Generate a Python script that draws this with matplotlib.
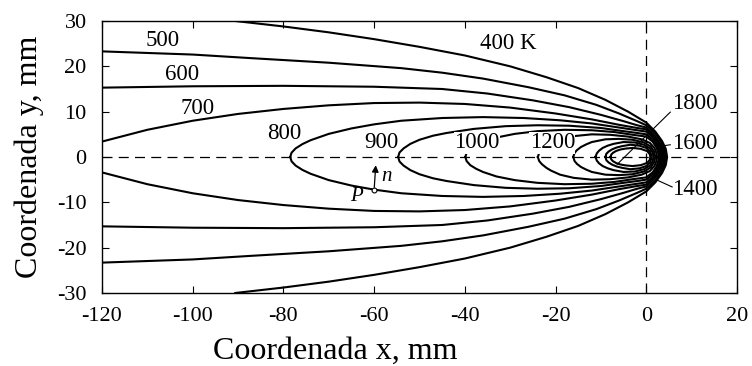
import matplotlib
matplotlib.use("Agg")
import matplotlib.pyplot as plt
import numpy as np

plt.rcParams['font.family'] = ['Liberation Serif', 'DejaVu Serif']
plt.rcParams['axes.unicode_minus'] = False

# upper half of each isotherm (x, y in mm), lower half is its mirror image
x_400 = [-90.6, -80, -70, -60, -50, -40, -30, -22, -15, -9, -4, 0, 2, 3.5, 4.3, 4.6]
y_400 = [30, 28.8, 27.5, 26.0, 24.3, 22.4, 20.0, 17.6, 15.2, 12.6, 10.0, 7.6, 5.6, 3.5, 1.8, 0]
x_500 = [-120, -100, -87, -70, -54, -45, -36, -26, -18, -11, -6, -2, 0, 2, 3.3, 4.0, 4.3]
y_500 = [23.3, 22.6, 21.8, 20.8, 19.6, 18.6, 17.3, 15.4, 13.6, 11.5, 9.6, 7.9, 7.0, 5.2, 3.3, 1.7, 0]
x_600 = [-120, -100, -80, -60, -45, -35, -25, -17, -10, -5, -2, 0, 1.8, 3.0, 3.7, 4.0]
y_600 = [15.3, 15.6, 15.7, 15.5, 15.0, 14.0, 12.5, 11.0, 9.3, 7.9, 7.0, 6.5, 4.8, 3.1, 1.6, 0]
x_700 = [-120, -110, -100, -90, -80, -70, -60, -50, -40, -30, -20, -12, -6, -2, 0, 1.7, 2.8, 3.4, 3.7]
y_700 = [3.4, 6.0, 8.0, 9.5, 10.6, 11.4, 11.9, 12.0, 11.7, 10.9, 9.6, 8.3, 7.1, 6.4, 6.1, 4.5, 2.9, 1.5, 0]
x_800 = [-78.5, -78.2, -77.3, -75.8, -74, -70, -65, -60, -54, -45, -36, -27, -19, -12, -6, -2, 0,
         1.6, 2.6, 3.1, 3.4]
y_800 = [0, 0.95, 1.9, 2.85, 3.7, 5.1, 6.3, 7.2, 8.0, 8.6, 8.8, 8.6, 8.1, 7.4, 6.5, 5.9, 5.6,
         4.2, 2.7, 1.4, 0]
x_900 = [-54.7, -54.4, -53.5, -52, -50, -47, -44, -38, -31, -24, -17, -10, -5, -2, 0,
         1.5, 2.4, 2.9, 3.1]
y_900 = [0, 1.0, 1.9, 2.9, 3.8, 4.7, 5.3, 6.2, 6.8, 7.0, 6.9, 6.4, 5.7, 5.3, 5.0,
         3.8, 2.5, 1.3, 0]
x_1000 = [-39.9, -39.6, -38.8, -37.5, -36, -33, -29, -24, -18, -12, -7, -3, 0, 1.4, 2.2, 2.6, 2.8]
y_1000 = [0, 0.9, 1.8, 2.6, 3.3, 4.3, 5.1, 5.7, 6.0, 5.9, 5.5, 4.9, 4.5, 3.4, 2.2, 1.1, 0]
x_1200 = [-23.9, -23.6, -23, -22, -21, -19, -16, -12, -8, -4, -1, 0.8, 1.8, 2.2, 2.4]
y_1200 = [0, 0.9, 1.6, 2.4, 3.0, 3.9, 4.6, 5.0, 4.9, 4.5, 3.9, 3.1, 2.0, 1.0, 0]
x_1400 = [-16.1, -15.8, -15.3, -14.4, -13.2, -12, -9, -6, -3, -0.5, 1.0, 1.7, 2.0]
y_1400 = [0, 0.9, 1.5, 2.2, 2.8, 3.3, 3.9, 4.0, 3.8, 3.2, 2.3, 1.2, 0]
x_1600 = [-11.2, -10.9, -10.4, -9.6, -8.5, -7.2, -5, -2.5, -0.5, 0.8, 1.4, 1.6]
y_1600 = [0, 0.8, 1.4, 2.0, 2.5, 2.9, 3.3, 3.2, 2.7, 1.9, 1.0, 0]
x_1800 = [-9.0, -8.8, -8.3, -7.5, -6.5, -5.3, -3.5, -1.5, 0, 0.9, 1.2]
y_1800 = [0, 0.7, 1.2, 1.7, 2.1, 2.4, 2.7, 2.5, 2.0, 1.1, 0]
x_core = [-7.9, -7.7, -7.3, -6.6, -5.7, -4.6, -3, -1.2, 0.2, 0.8, 0.9]
y_core = [0, 0.55, 0.95, 1.35, 1.65, 1.85, 2.0, 1.8, 1.3, 0.6, 0]

curves = [(x_400, y_400), (x_500, y_500), (x_600, y_600), (x_700, y_700),
          (x_800, y_800), (x_900, y_900), (x_1000, y_1000), (x_1200, y_1200),
          (x_1400, y_1400), (x_1600, y_1600), (x_1800, y_1800), (x_core, y_core)]

# labels next to the curves
label_text = ['500', '600', '700', '800', '900', '400 K']
label_x = [-106.7, -102.3, -99.0, -79.8, -58.4, -30.4]
label_y = [25.6, 18.3, 10.8, 5.1, 3.1, 25.1]
# labels sitting on top of a curve (they hide it)
onlabel_text = ['1000', '1200']
onlabel_x = [-37.3, -20.7]
onlabel_y = [3.1, 3.1]

# labels with leader lines on the right
side_text = ['1800', '1600', '1400']
side_x = [10.8, 10.6, 10.8]
side_y = [11.7, 2.9, -7.1]
lead_from = [(5.3, 9.9), (5.3, 2.7), (5.7, -6.6)]
lead_to = [(-6.4, -1.6), (4.0, 2.5), (2.4, -5.1)]

fig = plt.figure(figsize=(7.52, 3.66), dpi=100)
ax = fig.add_axes([0.1356, 0.1995, 0.8444, 0.7431])

# dashed axes through the origin
ax.axhline(0, color='black', lw=0.9, ls=(0, (8, 5)))
ax.axvline(0, color='black', lw=0.9, ls=(0, (8, 5)))

for xs, ys in curves:
    xs = np.array(xs)
    ys = np.array(ys)
    xx = np.concatenate([xs, xs[::-1]])
    yy = np.concatenate([ys, -ys[::-1]])
    ax.plot(xx, yy, color='black', lw=1.5, solid_joinstyle='round')

for t, x, y in zip(label_text, label_x, label_y):
    ax.text(x, y, t, fontsize=16.5, ha='center', va='center')

for t, x, y in zip(onlabel_text, onlabel_x, onlabel_y):
    ax.text(x, y, t, fontsize=16.5, ha='center', va='center',
            bbox=dict(facecolor='white', edgecolor='none', pad=0.2))

for t, x, y, p0, p1 in zip(side_text, side_x, side_y, lead_from, lead_to):
    ax.plot([p0[0], p1[0]], [p0[1], p1[1]], color='black', lw=0.8)
    ax.text(x, y, t, fontsize=16.5, ha='center', va='center')

# point P with its normal n
ax.annotate('', xy=(-59.6, -1.2), xytext=(-60.0, -7.3),
            arrowprops=dict(arrowstyle='-|>', color='black', lw=0.9,
                            mutation_scale=10))
ax.plot([-60.0], [-7.3], 'o', ms=3.5, mfc='white', mec='black', mew=0.8)
ax.text(-57.3, -4.2, 'n', fontsize=15, style='italic', ha='center', va='center')
ax.text(-63.8, -8.8, 'P', fontsize=15, style='italic', ha='center', va='center')

ax.set_xlim(-120, 20)
ax.set_ylim(-30, 30)
ax.set_xticks(np.arange(-120, 21, 20))
ax.set_yticks(np.arange(-30, 31, 10))
ax.tick_params(direction='in', top=True, right=True, length=5, width=0.8,
               labelsize=16)
ax.tick_params(axis='x', pad=10)
ax.tick_params(axis='y', pad=11)
for s in ax.spines.values():
    s.set_linewidth(1.0)

ax.set_xlabel('Coordenada x, mm', fontsize=23)
ax.set_ylabel('Coordenada y, mm', fontsize=23)
ax.xaxis.set_label_coords(0.368, -0.16)
ax.yaxis.set_label_coords(-0.092, 0.5)

fig.savefig('out.png', dpi=100)
